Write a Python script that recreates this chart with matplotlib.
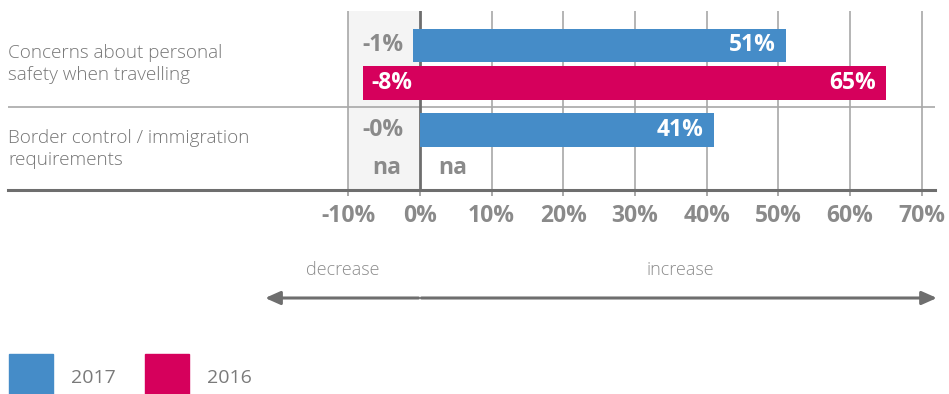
import matplotlib.pyplot as plt
import matplotlib.transforms as mtransforms
from matplotlib.patches import Rectangle

plt.rcParams['font.family'] = ['Open Sans', 'DejaVu Sans']

categories = ["Concerns about personal\nsafety when travelling",
              "Border control / immigration\nrequirements"]
increase_2017 = [51, 41]
decrease_2017 = [-1, -0.0]
increase_2016 = [65, None]
decrease_2016 = [-8, None]
ticks = [-10, 0, 10, 20, 30, 40, 50, 60, 70]
years = ["2017", "2016"]

BLUE = "#458cc8"
RED = "#d6005c"
GRID = "#a8a8a8"
DARK = "#6e6e6e"
LABEL = "#8a8a8a"

W, H = 949, 394
fig = plt.figure(figsize=(W / 100, H / 100), dpi=100)
# pixel coordinates measured from the top-left corner
px = mtransforms.Affine2D().scale(1 / W, -1 / H).translate(0, 1) + fig.transFigure

ax = fig.add_axes([8 / W, 1 - 190 / H, 927 / W, 179 / H])
ax.set_xlim(-57.46, 71.83)
ax.set_ylim(1.488, -0.63)

bar_h = 0.40
off = 0.222

ax.axvspan(-10, 0, color="#f4f4f4", zorder=0)
for t in ticks:
    if t != 0:
        ax.axvline(t, color=GRID, lw=1.2, zorder=1)
ax.axvline(0, color=DARK, lw=2, zorder=2)
ax.axhline(0.5, color=GRID, lw=1.2, zorder=1)

val_font = dict(fontsize=16.5, fontweight="bold", va="center")

for g, cat in enumerate(categories):
    y17 = g - off
    y16 = g + off
    ax.text(-57.46, g, cat, ha="left", va="center", fontsize=13.6,
            color="#767676", linespacing=1.25, fontweight="light")

    ax.barh(y17, increase_2017[g], height=bar_h, color=BLUE, zorder=3)
    ax.barh(y17, decrease_2017[g], height=bar_h, color=BLUE, zorder=3)
    ax.text(increase_2017[g] - 1.4, y17, f"{increase_2017[g]:.0f}%",
            ha="right", color="white", **val_font)
    ax.text(-5.2, y17, f"{decrease_2017[g]:.0f}%", ha="center",
            color=LABEL, zorder=4, **val_font)

    if increase_2016[g] is None:
        ax.text(-4.6, y16, "na", ha="center", color=LABEL, **val_font)
        ax.text(4.6, y16, "na", ha="center", color=LABEL, **val_font)
        continue
    ax.barh(y16, increase_2016[g], height=bar_h, color=RED, zorder=3)
    ax.barh(y16, decrease_2016[g], height=bar_h, color=RED, zorder=3)
    ax.text(increase_2016[g] - 1.4, y16, f"{increase_2016[g]:.0f}%",
            ha="right", color="white", **val_font)
    ax.text(-3.9, y16, f"{decrease_2016[g]:.0f}%", ha="center",
            color="white", zorder=4, **val_font)

ax.set_xticks(ticks)
ax.set_xticklabels([f"{t}%" for t in ticks])
ax.set_yticks([])
ax.tick_params(axis="x", length=4, width=1.2, color="#999999", pad=6,
               labelsize=16.5, labelcolor=LABEL)
for lbl in ax.get_xticklabels():
    lbl.set_fontweight("bold")
for side in ["top", "left", "right"]:
    ax.spines[side].set_visible(False)
ax.spines["bottom"].set_color(DARK)
ax.spines["bottom"].set_linewidth(2.2)

# decrease / increase arrows below the axis
arrow_tr = mtransforms.blended_transform_factory(ax.transData, px)
head = dict(arrowstyle="-|>,head_length=0.9,head_width=0.4", color=DARK,
            lw=2.2, shrinkA=0, shrinkB=0)
ax.annotate("", xy=(-21.6, 298), xytext=(-0.2, 298),
            xycoords=arrow_tr, textcoords=arrow_tr, arrowprops=head)
ax.annotate("", xy=(72.1, 298), xytext=(0.2, 298),
            xycoords=arrow_tr, textcoords=arrow_tr, arrowprops=head)
ax.text(-10.8, 270, "decrease", transform=arrow_tr, ha="center", va="center",
        fontsize=13, color="#8c8c8c", fontweight="light")
ax.text(36.3, 270, "increase", transform=arrow_tr, ha="center", va="center",
        fontsize=13, color="#8c8c8c", fontweight="light")

# legend
for x0, year, col in zip([9, 145], years, [BLUE, RED]):
    fig.add_artist(Rectangle((x0, 354), 44, 40, transform=px, color=col))
    fig.text(x0 + 62, 378, year, transform=px, ha="left", va="center",
             fontsize=14, color="#7a7a7a")

fig.savefig("out.png", dpi=100)
